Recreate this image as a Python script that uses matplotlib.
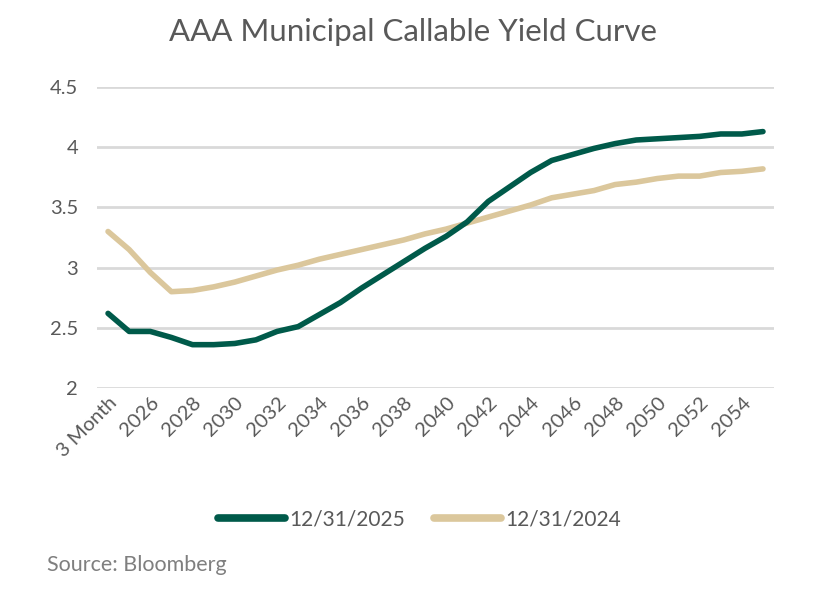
import matplotlib
matplotlib.use("Agg")
import matplotlib.pyplot as plt

# Données
categories = ["3 Month", "6 Month"] + [str(y) for y in range(2026, 2056)]
yield_2025 = [2.62, 2.47, 2.47, 2.42, 2.36, 2.36, 2.37, 2.40, 2.47, 2.51,
              2.61, 2.71, 2.83, 2.94, 3.05, 3.16, 3.26, 3.38, 3.55, 3.67,
              3.79, 3.89, 3.94, 3.99, 4.03, 4.06, 4.07, 4.08, 4.09, 4.11,
              4.11, 4.13]
yield_2024 = [3.30, 3.15, 2.96, 2.80, 2.81, 2.84, 2.88, 2.93, 2.98, 3.02,
              3.07, 3.11, 3.15, 3.19, 3.23, 3.28, 3.32, 3.37, 3.42, 3.47,
              3.52, 3.58, 3.61, 3.64, 3.69, 3.71, 3.74, 3.76, 3.76, 3.79,
              3.80, 3.82]
y_ticks = [2, 2.5, 3, 3.5, 4, 4.5]
y_tick_labels = ["2", "2.5", "3", "3.5", "4", "4.5"]

GREEN = "#005A4A"
TAN = "#DBC79C"
GREY_TXT = "#595959"
GRID = "#D9D9D9"

plt.rcParams["font.family"] = ["Lato", "DejaVu Sans"]

fig = plt.figure(figsize=(8.26, 6.06), dpi=100)
ax = fig.add_axes([0.118, 0.3597, 0.8185, 0.4967])

x = list(range(len(categories)))
ax.plot(x, yield_2025, color=GREEN, lw=4, solid_capstyle="round",
        solid_joinstyle="round", label="12/31/2025", zorder=3)
ax.plot(x, yield_2024, color=TAN, lw=4, solid_capstyle="round",
        solid_joinstyle="round", label="12/31/2024", zorder=2)

ax.set_xlim(-0.5, len(categories) - 0.5)
ax.set_ylim(2, 4.5)
ax.set_yticks(y_ticks)
ax.set_yticklabels(y_tick_labels)
ax.yaxis.grid(True, color=GRID, lw=2)
ax.set_axisbelow(True)

ax.set_xticks(x[::2])
ax.set_xticklabels([categories[0]] + categories[2::2], rotation=45,
                   ha="right", rotation_mode="anchor")

for s in ax.spines.values():
    s.set_visible(False)
ax.tick_params(axis="both", length=0, labelsize=14.5, colors=GREY_TXT)
ax.tick_params(axis="y", pad=14)
ax.tick_params(axis="x", pad=4)

fig.text(0.5, 0.948, "AAA Municipal Callable Yield Curve", ha="center",
         va="center", fontsize=22.5, color=GREY_TXT)

leg = fig.legend(loc="center", bbox_to_anchor=(0.508, 0.143), ncol=2,
                 frameon=False, fontsize=15, handlelength=3.2,
                 handletextpad=0.2, columnspacing=1.4)
for t in leg.get_texts():
    t.set_color(GREY_TXT)
for h in leg.legend_handles:
    h.set_linewidth(5.5)

fig.text(0.057, 0.067, "Source: Bloomberg", ha="left", va="center",
         fontsize=15.5, color="#7F7F7F")

fig.savefig("out.png", dpi=100)
